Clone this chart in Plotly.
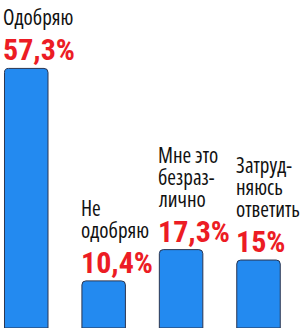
import plotly.graph_objects as go

categories = ["Одобряю", "Не одобряю", "Мне это безразлично", "Затрудняюсь ответить"]
label_lines = [["Одобряю"], ["Не", "одобряю"], ["Мне это", "безраз-", "лично"], ["Затруд-", "няюсь", "ответить"]]
values = [57.3, 10.4, 17.3, 15]
value_text = ["57,3%", "10,4%", "17,3%", "15%"]

xs = list(range(len(categories)))
BAR_W = 0.562
NUM_FAMILY = "Roboto"
LAB_FAMILY = "Open Sans"
NUM_SIZE = 30
LAB_SIZE = 21


def cond(t):
    return f"<span style='font-stretch:condensed'>{t}</span>"


fig = go.Figure()
fig.add_trace(go.Bar(
    x=xs, y=values, width=BAR_W,
    marker=dict(color="#238AF0", line=dict(color="#2b3550", width=1), cornerradius=4),
    hoverinfo="skip",
))

for i, (lines, val, vt) in enumerate(zip(label_lines, values, value_text)):
    fig.add_annotation(
        x=xs[i] - BAR_W / 2, y=val, xref="x", yref="y",
        text=cond(vt), showarrow=False, xanchor="left", yanchor="bottom",
        xshift=-3, yshift=-1,
        font=dict(family=NUM_FAMILY, size=NUM_SIZE, color="#EC1C24", weight="bold"),
    )
    n = len(lines)
    for j, line in enumerate(lines):
        fig.add_annotation(
            x=xs[i] - BAR_W / 2, y=val, xref="x", yref="y",
            text=cond(line), showarrow=False, xanchor="left", yanchor="bottom",
            xshift=-3, yshift=35 + 22 * (n - 1 - j),
            font=dict(family=LAB_FAMILY, size=LAB_SIZE, color="#111111", weight=500),
        )

fig.update_layout(
    width=300, height=328,
    margin=dict(l=0, r=0, t=0, b=0),
    paper_bgcolor="white", plot_bgcolor="white",
    showlegend=False,
    xaxis=dict(range=[-0.339, 3.536], visible=False, fixedrange=True),
    yaxis=dict(range=[0, 72.4], visible=False, fixedrange=True),
)

fig.write_html("out.html", config={"displayModeBar": False})
